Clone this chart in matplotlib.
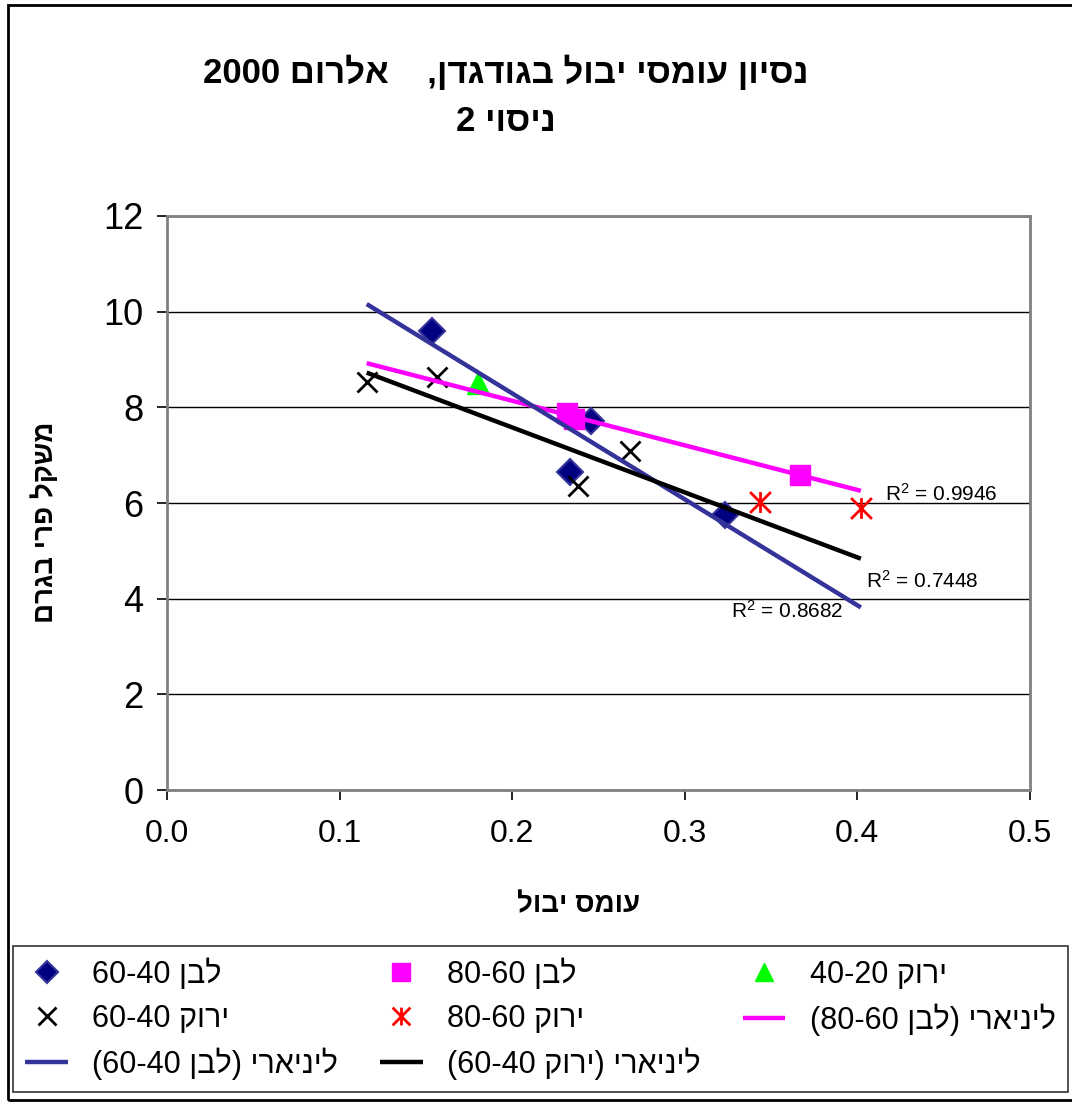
import re
import numpy as np
import matplotlib
matplotlib.use("Agg")
import matplotlib.pyplot as plt
from matplotlib.path import Path
from matplotlib.patches import Rectangle


def visual(s):
    # matplotlib has no bidi support: turn logical Hebrew text into display order
    r = s[::-1]
    r = re.sub(r"[0-9A-Za-z.\-]+", lambda m: m.group(0)[::-1], r)
    return r.translate(str.maketrans("()", ")("))


# data
white4060_x = [0.1535, 0.2335, 0.2457, 0.3233]
white4060_y = [9.60, 6.65, 7.71, 5.75]
white6080_x = [0.232, 0.236, 0.3667]
white6080_y = [7.88, 7.76, 6.585]
green2040_x = [0.180]
green2040_y = [8.51]
green4060_x = [0.1157, 0.1563, 0.2383, 0.2683]
green4060_y = [8.52, 8.64, 6.36, 7.09]
green6080_x = [0.3436, 0.402]
green6080_y = [6.03, 5.90]

labels = ["לבן 60-40", "לבן 80-60", "ירוק 40-20", "ירוק 60-40", "ירוק 80-60",
          "ליניארי (לבן 80-60)", "ליניארי (לבן 60-40)", "ליניארי (ירוק 60-40)"]
r2_text = [r"R$^2$ = 0.9946", r"R$^2$ = 0.7448", r"R$^2$ = 0.8682"]
title = "נסיון עומסי יבול בגודגדן,    אלרום 2000\nניסוי 2"
xlabel = "עומס יבול"
ylabel = "משקל פרי בגרם"
xticks = [0.0, 0.1, 0.2, 0.3, 0.4, 0.5]
yticks = [0, 2, 4, 6, 8, 10, 12]

plt.rcParams['font.family'] = ['Liberation Sans', 'DejaVu Sans']
plt.rcParams['mathtext.fontset'] = 'custom'
plt.rcParams['mathtext.rm'] = 'Liberation Sans'
plt.rcParams['mathtext.it'] = 'Liberation Sans'
plt.rcParams['mathtext.bf'] = 'Liberation Sans:bold'

fig = plt.figure(figsize=(10.72, 11.11), dpi=100)
ax = fig.add_axes([0.1558, 0.2889, 0.805, 0.5167])

star = Path([(0, -1), (0, 1), (-1, -1), (1, 1), (-1, 1), (1, -1)],
            [Path.MOVETO, Path.LINETO] * 3)

h1, = ax.plot(white4060_x, white4060_y, 'D', ms=13, mfc='#000080', mec='#333399', mew=1.5, ls='none')
h2, = ax.plot(white6080_x, white6080_y, 's', ms=15, mfc='#FF00FF', mec='#FF00FF', ls='none')
h3, = ax.plot(green2040_x, green2040_y, '^', ms=16, mfc='#00FF00', mec='#00FF00', ls='none')
h4, = ax.plot(green4060_x, green4060_y, 'x', ms=15, mec='black', mew=2, ls='none')
h5, = ax.plot(green6080_x, green6080_y, marker=star, ms=15, mec='#FF0000', mew=2, ls='none')

# linear trend lines drawn across the full x range of the data
all_x = white4060_x + white6080_x + green2040_x + green4060_x + green6080_x
xr = np.array([min(all_x), max(all_x)])


def trend(xs, ys, color):
    k, b = np.polyfit(xs, ys, 1)
    line, = ax.plot(xr, k * xr + b, color=color, lw=3.2, solid_capstyle='butt')
    return line


h6 = trend(white6080_x, white6080_y, '#FF00FF')
h7 = trend(white4060_x, white4060_y, '#333399')
h8 = trend(green4060_x, green4060_y, 'black')

ax.text(0.416, 6.2, r2_text[0], fontsize=15, va='center')
ax.text(0.405, 4.38, r2_text[1], fontsize=15, va='center')
ax.text(0.327, 3.75, r2_text[2], fontsize=15, va='center')

ax.set_xlim(0, 0.5)
ax.set_ylim(0, 12)
ax.set_xticks(xticks)
ax.set_xticklabels([f"{v:.1f}" for v in xticks], fontsize=23)
ax.set_yticks(yticks)
ax.set_yticklabels([str(v) for v in yticks], fontsize=26)
ax.tick_params(axis='both', direction='out', length=7, width=1.2, color='black', pad=10)
ax.tick_params(axis='x', pad=14)
ax.yaxis.grid(True, color='black', lw=1)
ax.set_axisbelow(True)
for sp in ax.spines.values():
    sp.set_color('#808080')
    sp.set_linewidth(2)

ax.set_xlabel(visual(xlabel), fontsize=20, fontweight='bold')
ax.xaxis.set_label_coords((579 - 167) / 863, -(905 - 790) / 574)
ax.set_ylabel(visual(ylabel), fontsize=20, fontweight='bold')
ax.yaxis.set_label_coords(-(167 - 45) / 863, (790 - 522) / 574)
ax.xaxis.label.set_va('center')
ax.yaxis.label.set_va('center')

t1, t2 = title.split("\n")
fig.text(0.472, 0.935, visual(t1), fontsize=25, fontweight='bold', ha='center', va='center')
fig.text(0.472, 0.891, visual(t2), fontsize=25, fontweight='bold', ha='center', va='center')

# legend filled column by column
handles = [h1, h4, h7, h2, h5, h8, h3, h6]
order = [0, 3, 6, 1, 4, 7, 2, 5]
leg = fig.legend(handles, [visual(labels[i]) for i in order], ncol=3,
                 loc='lower left', bbox_to_anchor=(13 / 1072, 19 / 1111, 1055 / 1072, 145 / 1111),
                 mode='expand', fontsize=22, frameon=True, fancybox=False,
                 handlelength=1.4, handletextpad=0.8, labelspacing=0.45,
                 borderpad=0.4, numpoints=1, borderaxespad=0, markerscale=0.85)
leg.get_frame().set_edgecolor('black')
leg.get_frame().set_linewidth(1.2)

fig.patches.append(Rectangle((8 / 1072, 11 / 1111), 1.1, 1095 / 1111, transform=fig.transFigure,
                             fill=False, ec='black', lw=2))

fig.savefig("out.png", dpi=100)
